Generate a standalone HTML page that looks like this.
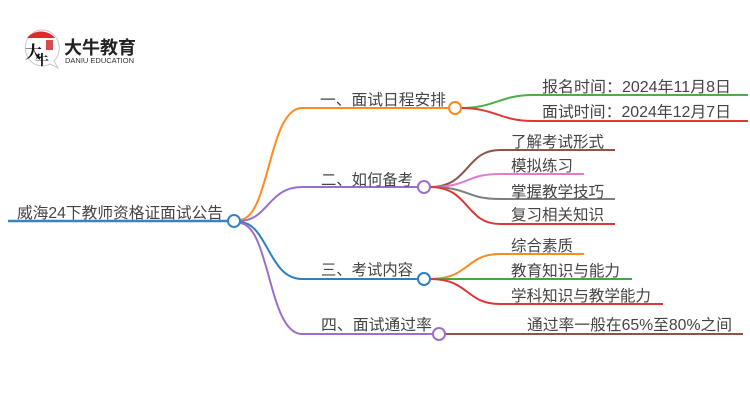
<!DOCTYPE html>
<html><head><meta charset="utf-8"><style>
html,body{margin:0;padding:0;background:#fff;}
svg{display:block;}
text{font-family:"Liberation Sans","Noto Sans CJK SC",sans-serif;fill:#444;}
</style></head><body>
<svg width="750" height="410" viewBox="0 0 750 410" xmlns="http://www.w3.org/2000/svg">
<!-- logo -->
<g>
  <path d="M41 30 A17 18 0 1 0 50 64 L58 68 L54 61 A17 18 0 0 0 41 30 Z" fill="#fff" stroke="#c8c8c8" stroke-width="1"/>
  <path d="M27 38 A17 15 0 0 1 55 38 Z" fill="#e02a2a"/>
  <text x="25" y="58" style="font-family:'Noto Serif CJK SC',serif;font-size:17px;fill:#111;font-weight:bold">大</text>
  <text x="35" y="65" style="font-family:'Noto Serif CJK SC',serif;font-size:14px;fill:#111;font-weight:bold">牛</text>
  <rect x="46" y="40" width="7" height="10" fill="#d94a4a"/>
  <text x="64" y="54" style="font-size:18px;font-weight:bold;fill:#222;">大牛教育</text>
  <text x="65" y="63" textLength="69" lengthAdjust="spacingAndGlyphs" style="font-size:7px;fill:#333;">DANIU EDUCATION</text>
</g>

<g fill="none" stroke-width="2">
  <!-- root line -->
  <line x1="8" y1="221" x2="228" y2="221" stroke="#3b83c0" stroke-width="2.5"/>
  <!-- main branches -->
  <path d="M239 220 C270 220 268 108 302 108 L449 108" stroke="#ff8a1f"/>
  <path d="M239 221 C268 221 268 187 302 187 L418 187" stroke="#9b6fc9"/>
  <path d="M239 222 C268 222 268 279 302 279 L418 279" stroke="#2d7fc0"/>
  <path d="M239 223 C270 223 268 334 302 334 L433 334" stroke="#9b6fc9"/>
  <!-- branch 1 leaves -->
  <path d="M461 108 C495 108 500 95 533 95 L748 95" stroke="#4cae44"/>
  <path d="M461 108 C495 108 500 121 533 121 L748 121" stroke="#e03636"/>
  <!-- branch 2 leaves -->
  <path d="M430 187 C470 187 465 150 500 150 L615 150" stroke="#8b5549"/>
  <path d="M430 187 C470 187 465 174 500 174 L584 174" stroke="#e37bcb"/>
  <path d="M430 187 C470 187 465 199 500 199 L615 199" stroke="#7f7f7f"/>
  <path d="M430 187 C470 187 465 224 500 224 L615 224" stroke="#e03636"/>
  <!-- branch 3 leaves -->
  <path d="M430 279 C470 279 465 254 500 254 L584 254" stroke="#ff8a1f"/>
  <path d="M430 279 L632 279" stroke="#3fab3f"/>
  <path d="M430 279 C470 279 465 304 500 304 L663 304" stroke="#e03636"/>
  <!-- branch 4 leaf -->
  <path d="M445 334 L743 334" stroke="#8b5549"/>
  <!-- circles -->
  <circle cx="234" cy="221" r="6" fill="#fff" stroke="#3b83c0"/>
  <circle cx="455" cy="108" r="6" fill="#fff" stroke="#ff8a1f"/>
  <circle cx="424" cy="187" r="6" fill="#fff" stroke="#9b6fc9"/>
  <circle cx="424" cy="279" r="6" fill="#fff" stroke="#2d7fc0"/>
  <circle cx="439" cy="334" r="6" fill="#fff" stroke="#9b6fc9"/>
</g>

<g style="font-size:15.5px">
  <text x="17" y="218" textLength="206" lengthAdjust="spacingAndGlyphs">威海24下教师资格证面试公告</text>
  <text x="320" y="105" textLength="126" lengthAdjust="spacingAndGlyphs">一、面试日程安排</text>
  <text x="542" y="92" textLength="189" lengthAdjust="spacingAndGlyphs">报名时间：2024年11月8日</text>
  <text x="542" y="117" textLength="189" lengthAdjust="spacingAndGlyphs">面试时间：2024年12月7日</text>
  <text x="321" y="185" textLength="92" lengthAdjust="spacingAndGlyphs">二、如何备考</text>
  <text x="511" y="147" textLength="93" lengthAdjust="spacingAndGlyphs">了解考试形式</text>
  <text x="511" y="171" textLength="62" lengthAdjust="spacingAndGlyphs">模拟练习</text>
  <text x="511" y="197" textLength="93" lengthAdjust="spacingAndGlyphs">掌握教学技巧</text>
  <text x="511" y="220" textLength="93" lengthAdjust="spacingAndGlyphs">复习相关知识</text>
  <text x="321" y="275" textLength="92" lengthAdjust="spacingAndGlyphs">三、考试内容</text>
  <text x="511" y="251" textLength="62" lengthAdjust="spacingAndGlyphs">综合素质</text>
  <text x="511" y="276" textLength="109" lengthAdjust="spacingAndGlyphs">教育知识与能力</text>
  <text x="511" y="301" textLength="140" lengthAdjust="spacingAndGlyphs">学科知识与教学能力</text>
  <text x="321" y="330" textLength="111" lengthAdjust="spacingAndGlyphs">四、面试通过率</text>
  <text x="527" y="330" textLength="205" lengthAdjust="spacingAndGlyphs">通过率一般在65%至80%之间</text>
</g>
</svg>
</body></html>
